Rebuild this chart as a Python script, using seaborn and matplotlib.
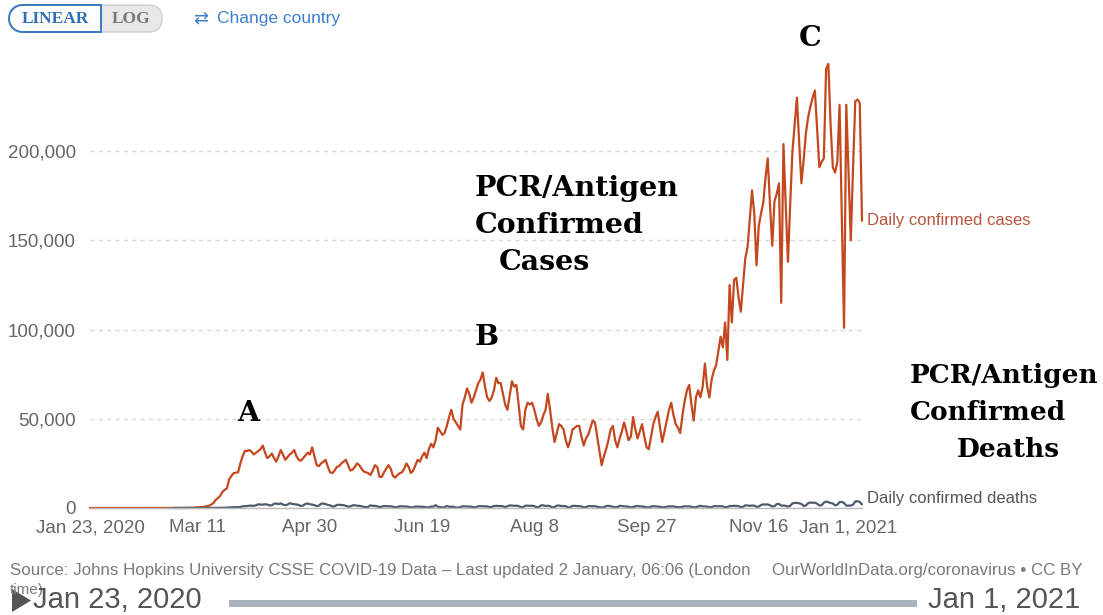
import numpy as np
import pandas as pd
import seaborn as sns
import matplotlib.pyplot as plt
import matplotlib.transforms as mtransforms
from matplotlib.patches import FancyBboxPatch, Rectangle, Polygon

# daily confirmed cases, one value per day from Jan 23, 2020 (rows of 7 days)
cases_daily = [
    0, 1, 0, 2, 0, 0, 0,
    1, 1, 1, 0, 3, 0, 0,
    0, 0, 0, 0, 0, 1, 0,
    1, 0, 0, 0, 0, 0, 0,
    0, 0, 0, 0, 0, 0, 0,
    1, 0, 8, 6, 23, 20, 31,
    68, 45, 140, 116, 65, 376, 322,
    450, 600, 700, 1000, 1300, 1900, 2800,
    4600, 5500, 6800, 9000, 10200, 11000, 16000,
    18000, 19500, 19800, 20000, 25000, 29000, 32000,
    32000, 32500, 31500, 30000, 31000, 32000, 33000,
    35000, 31000, 28000, 29000, 30500, 28000, 26000,
    29000, 32500, 30000, 27000, 28500, 30000, 31000,
    32500, 29000, 27000, 26500, 28000, 29500, 31000,
    30000, 34000, 29000, 24000, 23500, 25000, 26000,
    27000, 23000, 20000, 19600, 21000, 23000, 23500,
    25000, 26000, 27000, 24000, 21000, 21500, 23000,
    25000, 24000, 22000, 20500, 20000, 19500, 18500,
    21000, 24000, 23000, 17500, 17400, 20000, 22000,
    24000, 22000, 18000, 17000, 18500, 19500, 20000,
    22000, 25000, 23000, 19600, 21000, 24000, 27000,
    26000, 29000, 31000, 28000, 33000, 36000, 34000,
    38000, 45000, 43000, 41000, 42000, 46000, 51000,
    55000, 50000, 48000, 46000, 44000, 58000, 62000,
    67000, 64000, 59000, 62000, 66000, 70000, 72000,
    76000, 68000, 62000, 60000, 62000, 66000, 73000,
    70000, 70000, 64000, 58000, 55000, 63000, 71000,
    68000, 69000, 58000, 46000, 44000, 55000, 59000,
    58000, 59000, 55000, 50000, 46000, 48000, 52000,
    55000, 64000, 55000, 45000, 37000, 42000, 47000,
    46000, 44000, 38000, 34000, 38000, 44000, 45000,
    46000, 46000, 40000, 35000, 39000, 41000, 45000,
    49000, 48000, 40000, 32000, 24000, 29000, 33000,
    38000, 44000, 46000, 38000, 34000, 39000, 43000,
    48000, 43000, 38000, 40000, 51000, 44000, 39000,
    43000, 47000, 40000, 34000, 33000, 40000, 47000,
    51000, 54000, 45000, 37000, 43000, 49000, 55000,
    59000, 52000, 47000, 45000, 42000, 52000, 60000,
    66000, 69000, 58000, 49000, 62000, 66000, 62000,
    68000, 81000, 68000, 62000, 72000, 77000, 80000,
    88000, 96000, 90000, 104000, 83000, 125000, 104000,
    128000, 129000, 118000, 110000, 125000, 140000, 146000,
    162000, 178000, 165000, 136000, 158000, 165000, 171000,
    185000, 196000, 170000, 147000, 172000, 176000, 182000,
    115000, 204000, 170000, 138000, 170000, 200000, 215000,
    230000, 205000, 182000, 195000, 210000, 219000, 225000,
    230000, 234000, 212000, 191000, 194000, 196000, 246000,
    249000, 215000, 191000, 188000, 194000, 226000, 164000,
    101000, 226000, 188000, 150000, 190000, 228000, 229000,
    227000, 161000,
]

# daily confirmed deaths, Feb 29, 2020 to Jan 1, 2021
deaths_daily = [
    1,
    1, 4, 1, 4, 1, 2, 2, 3, 4, 5, 8, 7, 11, 12, 18, 23, 30, 40, 55, 70,
    100, 130, 150, 230, 270, 370, 450, 520, 450, 560, 900,
    1050, 1100, 1300, 1300, 1200, 1500, 2100, 1900, 1900, 2100,
    1900, 1500, 1500, 2400, 2500, 2200, 2600, 1900, 1600, 1900,
    2700, 2300, 2100, 2000, 1700, 1100, 1400, 2300, 2500, 2100,
    1900, 1600, 1100, 1300, 2400, 2500, 2200, 1700, 1500, 800,
    1000, 1700, 1800, 1700, 1600, 1200, 800, 900, 1500, 1500,
    1300, 1200, 1000, 600, 500, 700, 1500, 1200, 1200, 900, 600,
    700, 1100, 1000, 1000, 900, 700, 400, 500, 1000, 900,
    900, 800, 700, 300, 400, 800, 800, 700, 700, 600,
    300, 400, 800, 800, 1600, 700, 500, 300, 400, 1100,
    700, 700, 700, 300, 250, 400, 1000, 900, 900, 800,
    700, 400, 500, 1000, 1000, 1000, 900, 900, 500, 600,
    1100, 1200, 1100, 1100, 1000, 500, 1000, 1400, 1400, 1200, 1300,
    1100, 500, 500, 1300, 1300, 1200, 1300, 1000, 500, 500,
    1500, 1500, 1100, 1300, 1000, 400, 500, 1300, 1400, 1100,
    1100, 1000, 400, 400, 1200, 1200, 1100, 1000, 900, 300, 500,
    1000, 1100, 1000, 1000, 700, 400, 300, 400, 1100, 1200,
    1000, 700, 400, 500, 1200, 1100, 900, 900, 700, 300,
    500, 1000, 1100, 900, 900, 700, 300, 300, 800, 1000,
    900, 800, 700, 400, 400, 700, 900, 900, 900, 600,
    500, 400, 700, 1000, 900, 900, 700, 400, 400, 900,
    1200, 900, 900, 800, 400, 500, 1000, 1000, 1000, 1000, 900,
    400, 500, 1100, 1100, 1200, 1200, 1000, 500, 700, 1500,
    1400, 1200, 1400, 1300, 700, 800, 1700, 2000, 2000, 2000,
    1500, 900, 1000, 2200, 2300, 1300, 1400, 1200, 800, 1200,
    2600, 2800, 2900, 2600, 2300, 1100, 1400, 2700, 3100, 2900,
    3000, 2400, 1400, 1500, 3000, 3600, 3300, 2800, 2500, 1500,
    1800, 3300, 3400, 2800, 1300, 1300, 1400, 1800, 3700, 3800, 3400,
    2000,
]

series_names = ["Daily confirmed cases", "Daily confirmed deaths"]
tick_dates = ["2020-01-23", "2020-03-11", "2020-04-30", "2020-06-19",
              "2020-08-08", "2020-09-27", "2020-11-16", "2021-01-01"]
tick_labels = ["Jan 23, 2020", "Mar 11", "Apr 30", "Jun 19",
               "Aug 8", "Sep 27", "Nov 16", "Jan 1, 2021"]
y_ticks = [0, 50000, 100000, 150000, 200000]
y_labels = ["0", "50,000", "100,000", "150,000", "200,000"]

cases_df = pd.DataFrame({
    "date": pd.date_range("2020-01-23", periods=len(cases_daily)),
    "value": cases_daily, "series": series_names[0]})
deaths_df = pd.DataFrame({
    "date": pd.date_range(end="2021-01-01", periods=len(deaths_daily)),
    "value": deaths_daily, "series": series_names[1]})
df = pd.concat([cases_df, deaths_df], ignore_index=True)

sns.set_style("white")
plt.rcParams["font.family"] = ["Liberation Sans", "DejaVu Sans"]

W, H = 1103, 615
fig = plt.figure(figsize=(W / 100, H / 100), dpi=100)

ax = fig.add_axes([90 / W, 107 / H, 772 / W, 446 / H])

# overlay in pixel units (origin top-left) for the page furniture, drawn on top
ov = fig.add_axes([0, 0, 1, 1])
ov.set_xlim(0, W)
ov.set_ylim(H, 0)
ov.axis("off")
ov.set_zorder(3)

case_col = "#c4481f"
death_col = "#4f5b6a"
sns.lineplot(data=df, x="date", y="value", hue="series",
             palette={series_names[0]: case_col, series_names[1]: death_col},
             linewidth=1.6, legend=False, ax=ax)
for ln in ax.lines:
    ln.set_clip_on(False)

ax.set_xlim(pd.Timestamp("2020-01-23"), pd.Timestamp("2021-01-01"))
ax.set_ylim(0, 250000)
ax.set_xlabel("")
ax.set_ylabel("")

ax.set_yticks(y_ticks)
ax.set_yticklabels(y_labels)
ax.yaxis.grid(True, color="#d9d9d9", linestyle=(0, (3, 3)), linewidth=1)
ax.set_axisbelow(True)
ax.tick_params(axis="y", length=0, pad=10, labelsize=13.5, labelcolor="#666666")

ax.set_xticks(pd.to_datetime(tick_dates))
ax.set_xticklabels(tick_labels)
ax.tick_params(axis="x", length=5, color="#cccccc", pad=3, labelsize=13.5,
               labelcolor="#666666")
last = ax.get_xticklabels()[-1]
last.set_transform(last.get_transform() +
                   mtransforms.ScaledTranslation(-14 / 100, 0, fig.dpi_scale_trans))

for side in ["top", "right", "left"]:
    ax.spines[side].set_visible(False)
ax.spines["bottom"].set_color("#bbbbbb")
ax.spines["bottom"].set_linewidth(1)

# line-end labels
ov.text(867, 220, series_names[0], color="#b8553a", fontsize=12, va="center")
ov.text(867, 499, series_names[1], color="#555555", fontsize=12, va="center")

# annotations
serif = {"family": "DejaVu Serif", "weight": "bold", "color": "black", "va": "baseline"}
ov.text(248, 421, "A", ha="center", size=20.5, **serif)
ov.text(487, 345, "B", ha="center", size=20.5, **serif)
ov.text(810, 46, "C", ha="center", size=20.5, **serif)
ov.text(475, 196, "PCR/Antigen", size=20.5, **serif)
ov.text(475, 233, "Confirmed", size=20.5, **serif)
ov.text(499, 270, "Cases", size=20.5, **serif)
ov.text(910, 383, "PCR/Antigen", size=19, **serif)
ov.text(910, 420, "Confirmed", size=19, **serif)
ov.text(957, 457, "Deaths", size=19, **serif)

# LINEAR / LOG toggle
ov.add_patch(FancyBboxPatch((9, 5), 153, 27, boxstyle="round,pad=0,rounding_size=13.5",
                            facecolor="#e8e8e8", edgecolor="#cfcfcf", linewidth=1))
ang = np.linspace(np.pi / 2, 3 * np.pi / 2, 30)
lin_pts = [(101, 5)] + list(zip(22.5 + 13.5 * np.cos(ang), 18.5 - 13.5 * np.sin(ang))) + [(101, 32)]
ov.add_patch(Polygon(lin_pts, closed=True, facecolor="white", edgecolor="#3a78c2",
                     linewidth=1.4))
ov.text(55, 19, "LINEAR", family="Liberation Serif", weight="bold",
        size=12.5, color="#2f6db5", ha="center", va="center")
ov.text(131, 19, "LOG", family="Liberation Serif", weight="bold",
        size=12.5, color="#777777", ha="center", va="center")
ov.text(193, 18, "\u21c4", family="DejaVu Sans", size=13, color="#3a7fd0", va="center")
ov.text(217, 18, "Change country", size=12.5, color="#3a7fd0", va="center")

# footer
ov.text(10, 571, "Source: Johns Hopkins University CSSE COVID-19 Data \u2013 "
        "Last updated 2 January, 06:06 (London", size=12.2, color="#7a7a7a", va="center")
ov.text(10, 590, "time)", size=11, color="#7a7a7a", va="center")
ov.text(1083, 571, "OurWorldInData.org/coronavirus \u2022 CC BY", size=12.2,
        color="#7a7a7a", va="center", ha="right")
ov.add_patch(Polygon([(12, 589), (12, 612), (31, 600.5)], closed=True,
                     facecolor="#555555", edgecolor="none"))
ov.text(33, 600, "Jan 23, 2020", size=21, color="#555555", va="center")
ov.text(1080, 600, "Jan 1, 2021", size=21, color="#555555", va="center", ha="right")
ov.add_patch(Rectangle((229, 600), 688, 7, facecolor="#a9b3bd", edgecolor="none"))

fig.savefig("out.png", dpi=100)
